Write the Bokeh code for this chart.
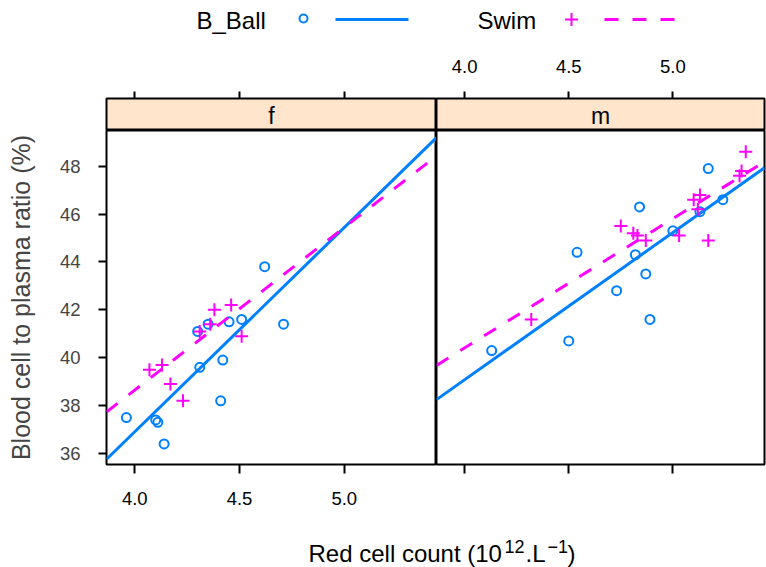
from bokeh.plotting import figure
from bokeh.models import Range1d, LinearAxis, FixedTicker, PrintfTickFormatter
from bokeh.layouts import column, row
from bokeh.core.properties import value
from bokeh.embed import file_html
from bokeh.resources import INLINE

# ---------------- data ----------------
panels = ["f", "m"]
groups = ["B_Ball", "Swim"]

f_bball_x = [3.96, 4.10, 4.11, 4.14, 4.31, 4.30, 4.35, 4.42, 4.41, 4.45, 4.51, 4.62, 4.71]
f_bball_y = [37.5, 37.4, 37.3, 36.4, 39.6, 41.1, 41.4, 39.9, 38.2, 41.5, 41.6, 43.8, 41.4]
f_swim_x = [4.07, 4.13, 4.17, 4.23, 4.31, 4.36, 4.38, 4.46, 4.51]
f_swim_y = [39.5, 39.7, 38.9, 38.2, 41.1, 41.4, 42.0, 42.2, 40.9]
m_bball_x = [4.13, 4.50, 4.54, 4.73, 4.82, 4.84, 4.87, 4.89, 5.00, 5.13, 5.17, 5.24]
m_bball_y = [40.3, 40.7, 44.4, 42.8, 44.3, 46.3, 43.5, 41.6, 45.3, 46.1, 47.9, 46.6]
m_swim_x = [4.32, 4.75, 4.81, 4.83, 4.87, 5.03, 5.10, 5.13, 5.12, 5.17, 5.32, 5.33, 5.35]
m_swim_y = [41.6, 45.5, 45.2, 45.1, 44.9, 45.1, 46.6, 46.8, 46.2, 44.9, 47.6, 47.8, 48.6]

# fitted regression lines (intercept, slope) as drawn in the reference
fit_f_bball = (2.79, 8.53)
fit_f_swim = (11.49, 6.79)
fit_m_bball = (14.48, 6.15)
fit_m_swim = (18.81, 5.40)

x_lim = (3.865, 5.44)
y_lim = (35.54, 49.49)
x_ticks = [4.0, 4.5, 5.0]
y_ticks = [36, 38, 40, 42, 44, 46, 48]

# x-axis title pieces: normal text and superscripts
title_parts = ["Red cell count (10", "12", ".L", "\u22121", ")"]
title_is_sup = [False, True, False, True, False]
y_title = "Blood cell to plasma ratio (%)"

# ---------------- style / layout ----------------
FONT = "Liberation Sans"
BLUE = "#0080ff"
MAG = "#ff00ff"
STRIP = "#ffe5cc"
TICK_FS = "18.5px"
LAB_FS = "24px"
SUP_FS = "18px"

W, H = 766, 567
LEFT = 106
FRAME_W_F = 330
FRAME_W_M = 328
RIGHT = W - LEFT - FRAME_W_F - FRAME_W_M
LEG_H = 40
STRIP_H = 90
STRIP_TOP = 58
PANEL_H = 384
PANEL_BOTTOM = 50
TITLE_H = H - LEG_H - STRIP_H - PANEL_H

title_x = [308, 504, 525, 547, 567]
title_mid = 553
sup_raise = 7

xr = Range1d(*x_lim)
yr = Range1d(*y_lim)


def base_fig(width, height, x_range, y_range, **kw):
    p = figure(width=width, height=height, x_range=x_range, y_range=y_range,
               output_backend="svg", toolbar_location=None,
               x_axis_type=None, y_axis_type=None, min_border=0, **kw)
    p.outline_line_color = "black"
    p.outline_line_width = 2
    p.background_fill_color = "white"
    p.border_fill_color = "white"
    return p


def x_axis(p, loc, labels, tick_out, standoff):
    ax = LinearAxis(ticker=FixedTicker(ticks=x_ticks),
                    formatter=PrintfTickFormatter(format="%.1f"))
    ax.axis_line_color = None
    ax.major_tick_out = tick_out
    ax.major_tick_in = 0
    ax.minor_tick_out = 0
    ax.minor_tick_in = 0
    ax.major_tick_line_color = "black"
    ax.major_tick_line_width = 2
    ax.major_label_text_font = FONT
    ax.major_label_text_font_size = TICK_FS
    ax.major_label_text_color = "black"
    ax.major_label_standoff = standoff
    if not labels:
        ax.major_label_overrides = {t: "" for t in x_ticks}
    p.add_layout(ax, loc)


# ---------------- legend ----------------
leg = base_fig(W, LEG_H, Range1d(0, W), Range1d(LEG_H, 0))
leg.outline_line_color = None
leg.text(x=[196, 477], y=[20, 20], text=groups, text_align="left",
         text_baseline="middle", text_font=value(FONT), text_font_size="24px",
         text_color="black")
leg.scatter(x=[303], y=[18], marker="circle", size=8, fill_color=None,
            line_color=BLUE, line_width=2)
leg.line(x=[335, 408], y=[19, 19], line_color=BLUE, line_width=3)
leg.scatter(x=[571], y=[19], marker="cross", size=13, line_color=MAG, line_width=2)
leg.line(x=[604, 674], y=[19, 19], line_color=MAG, line_width=3, line_dash="14 14")

# ---------------- strips ----------------
strip_figs = []
for i, name in enumerate(panels):
    if i == 0:
        s = base_fig(LEFT + FRAME_W_F, STRIP_H, xr, Range1d(0, 1),
                     min_border_top=STRIP_TOP, min_border_left=LEFT)
    else:
        s = base_fig(FRAME_W_M + RIGHT, STRIP_H, xr, Range1d(0, 1),
                     min_border_top=STRIP_TOP, min_border_right=RIGHT)
    s.background_fill_color = STRIP
    x_axis(s, "above", labels=(i == 1), tick_out=7, standoff=19)
    s.text(x=[(x_lim[0] + x_lim[1]) / 2], y=[0.45], text=[name], text_align="center",
           text_baseline="middle", text_font=value(FONT), text_font_size="23px",
           text_color="black")
    strip_figs.append(s)

# ---------------- panels ----------------
data = {
    "f": ((f_bball_x, f_bball_y, fit_f_bball), (f_swim_x, f_swim_y, fit_f_swim)),
    "m": ((m_bball_x, m_bball_y, fit_m_bball), (m_swim_x, m_swim_y, fit_m_swim)),
}

panel_figs = []
for i, name in enumerate(panels):
    if i == 0:
        p = base_fig(LEFT + FRAME_W_F, PANEL_H, xr, yr, min_border_left=LEFT,
                     min_border_bottom=PANEL_BOTTOM)
        ay = LinearAxis(ticker=FixedTicker(ticks=y_ticks), axis_label=y_title)
        ay.axis_line_color = None
        ay.major_tick_out = 8
        ay.major_tick_in = 0
        ay.minor_tick_out = 0
        ay.minor_tick_in = 0
        ay.major_tick_line_width = 2
        ay.major_label_text_font = FONT
        ay.major_label_text_font_size = TICK_FS
        ay.major_label_standoff = 18
        ay.axis_label_text_font = FONT
        ay.axis_label_text_font_size = "25px"
        ay.axis_label_text_font_style = "normal"
        ay.axis_label_standoff = 22
        p.add_layout(ay, "left")
    else:
        p = base_fig(FRAME_W_M + RIGHT, PANEL_H, xr, yr, min_border_right=RIGHT,
                     min_border_bottom=PANEL_BOTTOM)
    x_axis(p, "below", labels=(i == 0), tick_out=9, standoff=18)

    (bx, by, bfit), (sx, sy, sfit) = data[name]
    xs = [x_lim[0], x_lim[1]]
    p.scatter(bx, by, marker="circle", size=9, fill_color=None,
              line_color=BLUE, line_width=2)
    p.line(xs, [bfit[0] + bfit[1] * x for x in xs], line_color=BLUE, line_width=3)
    p.scatter(sx, sy, marker="cross", size=13, line_color=MAG, line_width=2)
    p.line(xs, [sfit[0] + sfit[1] * x for x in xs], line_color=MAG, line_width=3,
           line_dash="14 14")
    panel_figs.append(p)

# ---------------- x title ----------------
top_y = H - TITLE_H
tfig = base_fig(W, TITLE_H, Range1d(0, W), Range1d(H, top_y))
tfig.outline_line_color = None
for part, sup, x in zip(title_parts, title_is_sup, title_x):
    tfig.text(x=[x], y=[title_mid - sup_raise if sup else title_mid], text=[part],
              text_align="left", text_baseline="middle", text_font=value(FONT),
              text_font_size=SUP_FS if sup else LAB_FS, text_color="black")

layout = column(
    leg,
    row(column(strip_figs[0], panel_figs[0]), column(strip_figs[1], panel_figs[1])),
    tfig,
)

open("out.html", "w").write(file_html(layout, INLINE))
